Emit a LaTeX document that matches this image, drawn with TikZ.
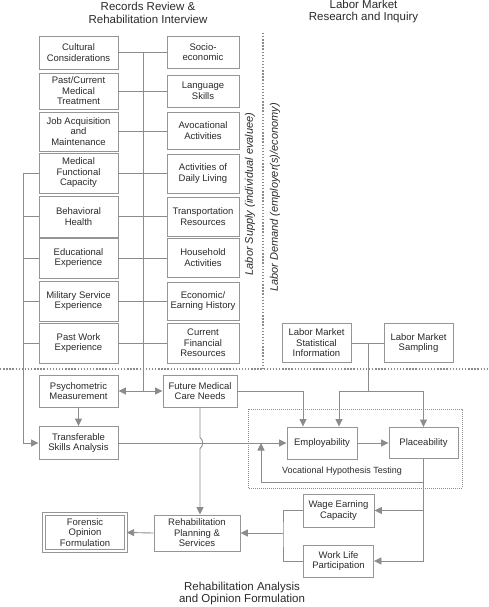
\documentclass[tikz,border=0pt]{standalone}
\usepackage{fontspec}
\setmainfont{Liberation Sans}
\usetikzlibrary{arrows.meta}
\definecolor{lgray}{HTML}{8C8C8C}
\definecolor{bgray}{HTML}{959595}
\definecolor{tx}{HTML}{2A2A2A}
\tikzset{
  bx/.style={draw=bgray, line width=0.9pt, fill=white, inner sep=0pt, align=center, text=tx,
             font=\fontsize{9.5}{10.5}\selectfont},
  wire/.style={draw=lgray, line width=0.9pt},
  arr/.style={wire, -{Triangle[length=7.5pt,width=7pt]}},
  biarr/.style={wire, {Triangle[length=7.5pt,width=7pt]}-{Triangle[length=7.5pt,width=7pt]}},
  sepdot/.style={draw=lgray, line width=1.5pt, dash pattern=on 1.4pt off 1.7pt},
  vhtdot/.style={draw=lgray, line width=0.7pt, dash pattern=on 0.7pt off 1.3pt},
  ttl/.style={align=center, text=tx, font=\fontsize{11.5}{12.8}\selectfont, inner sep=0pt},
  rot/.style={text=tx, font=\fontsize{11}{13}\selectfont\itshape, inner sep=0pt, rotate=90},
}
\newcommand\bxn[6]{\node[bx,minimum width=#4,minimum height=#5] (#1) at (#2,#3) {#6};}
\begin{document}
\begin{tikzpicture}[x=1pt,y=-1pt]
\useasboundingbox (0,0) rectangle (489,607);

% titles
\node[ttl] (t1) at (148,13) {Records Review \&\\Rehabilitation Interview};
\node[ttl] (t2) at (363.5,11.5) {Labor Market\\Research and Inquiry};
\node[ttl] (t3) at (242,593.5) {Rehabilitation Analysis\\and Opinion Formulation};

% separators
\draw[sepdot] (0,369) -- (489,369);
\draw[sepdot] (263,33) -- (263,369);
\node[rot] (ls) at (250,194) {Labor Supply (individual evaluee)};
\node[rot] (ld) at (275,197.5) {Labor Demand (employer(s)/economy)};

% vocational hypothesis testing frame
\draw[vhtdot] (248,409) rectangle (462,488);
\node[text=tx, font=\fontsize{9}{10}\selectfont, inner sep=0pt] (vht) at (342,471) {Vocational Hypothesis Testing};

% left column
\bxn{cult}{78.5}{52.5}{79}{33}{Cultural\\Considerations}
\bxn{pcmt}{78.5}{91}{79}{36}{Past/Current\\Medical\\Treatment}
\bxn{job}{78.5}{131.5}{79}{39}{Job Acquisition\\and\\Maintenance}
\bxn{mfc}{78.5}{173}{79}{40}{Medical\\Functional\\Capacity}
\bxn{beh}{78.5}{216.5}{79}{41}{Behavioral\\Health}
\bxn{edu}{78.5}{258}{79}{40}{Educational\\Experience}
\bxn{mil}{78.5}{301}{79}{40}{Military Service\\Experience}
\bxn{pwe}{78.5}{343}{79}{40}{Past Work\\Experience}

% right column
\bxn{soc}{203}{52}{72}{32}{Socio-\\economic}
\bxn{lang}{203}{91}{72}{32}{Language\\Skills}
\bxn{avo}{203}{130.5}{72}{37}{Avocational\\Activities}
\bxn{adl}{203}{173.5}{72}{39}{Activities of\\Daily Living}
\bxn{trn}{203}{216.5}{72}{39}{Transportation\\Resources}
\bxn{hh}{203}{257.5}{72}{39}{Household\\Activities}
\bxn{eeh}{203}{301}{72}{38}{Economic/\\Earning History}
\bxn{cfr}{203}{343}{72}{40}{Current\\Financial\\Resources}

% lower boxes
\bxn{psych}{78.5}{391}{79}{32}{Psychometric\\Measurement}
\bxn{fmed}{200}{391}{74}{32}{Future Medical\\Care Needs}
\bxn{trans}{78.5}{443}{79}{33}{Transferable\\Skills Analysis}
\bxn{emp}{322}{443}{70}{32}{Employability}
\bxn{plac}{423.5}{443}{69}{31}{Placeability}
\bxn{lmstat}{316.5}{343}{69}{39}{Labor Market\\Statistical\\Information}
\bxn{lmsamp}{418.5}{343}{69}{39}{Labor Market\\Sampling}
\bxn{wage}{338.5}{510.5}{71}{33}{Wage Earning\\Capacity}
\bxn{work}{338.5}{561}{70}{32}{Work Life\\Participation}
\bxn{rehab}{197}{533}{86}{36}{Rehabilitation\\Planning \&\\Services}
\node[bx, minimum width=82.5, minimum height=37.5, double=white, double distance=2.4pt, line width=0.8pt]
  (foren) at (85,532.5) {Forensic\\Opinion\\Formulation};

% connectors: interview rows
\foreach \l/\r in {cult/soc,pcmt/lang,job/avo,mfc/adl,beh/trn,edu/hh,mil/eeh,pwe/cfr}
  \draw[wire] (\l.east) -- (\l.east -| \r.west);

% central bus
\coordinate (bt) at (143,52.5);
\coordinate (bb) at (143,391);
\draw[wire] (bt) -- (bb);
\draw[biarr] (psych.east) -- (fmed.west);

% left bus
\coordinate (lb) at (23,173);
\draw[wire] (lb) -- (mfc.west);
\foreach \n in {beh,edu,mil,pwe}
  \draw[wire] (\n.west -| lb) -- (\n.west);
\draw[arr] (lb) |- (trans.west);

\draw[arr] (psych.south) -- (trans.north);

% transferable skills to employability
\draw[arr] (trans.east) -- (emp.west);

% future medical down to rehab, hopping over
\coordinate (hopA) at (200,437.5);
\coordinate (hopB) at (200,448.5);
\draw[arr] (fmed.south) -- (hopA) .. controls (203.5,439.5) and (203.5,446.5) .. (hopB) -- (fmed.south |- rehab.north);

% future medical to employability
\draw[arr] (fmed.east) -| ([xshift=-19pt]emp.north);

% labor market
\coordinate (lmj) at (368,343);
\coordinate (lmb) at (368,391);
\draw[wire] (lmstat.east) -- (lmsamp.west);
\draw[wire] (lmj) -- (lmb);
\draw[arr] (lmb) -| ([xshift=17pt]emp.north);
\draw[arr] (lmb) -| (plac.north);

\draw[arr] (emp.east) -- (plac.west);

% feedback and outputs
\coordinate (fbc) at (423.5,482);
\coordinate (fbt) at (261,443);
\draw[arr] (plac.south) -- (fbc) -| (fbt);
\draw[arr] (fbc) |- (wage.east);
\draw[arr] (fbc) |- (work.east);

\coordinate (mj) at (283,533);
\draw[wire] (wage.west) -| (mj) |- (work.west);
\draw[arr] (mj) -- (rehab.east);
\draw[arr] (rehab.west) -- (foren.east);
\end{tikzpicture}
\end{document}
